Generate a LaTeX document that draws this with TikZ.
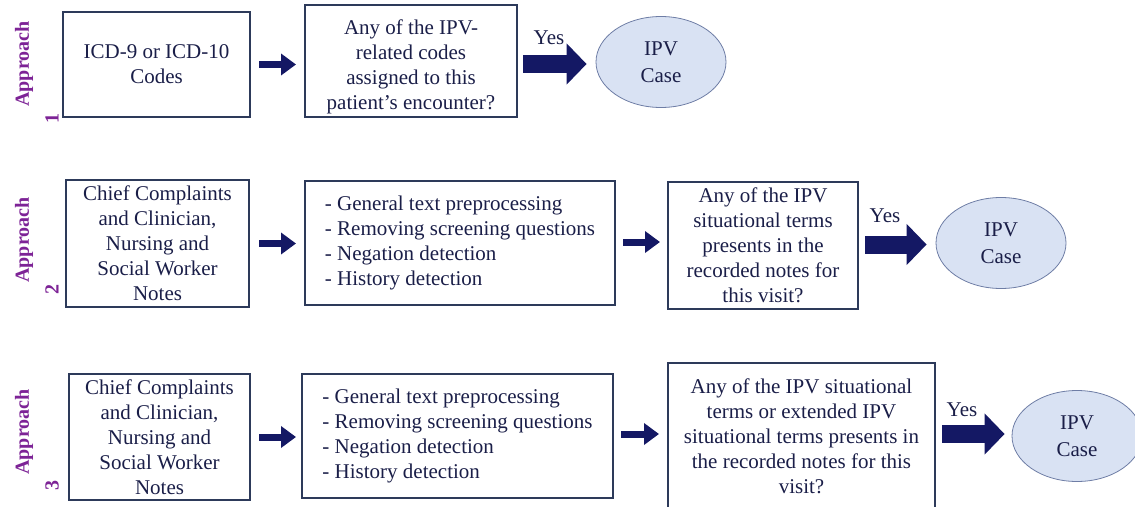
\documentclass[tikz,border=0pt]{standalone}
\usepackage{fontspec}
\setmainfont{Liberation Serif}
\usetikzlibrary{arrows.meta,shapes.geometric,calc}
\definecolor{txt}{RGB}{26,30,72}
\definecolor{boxc}{RGB}{45,58,90}
\definecolor{arr}{RGB}{20,24,100}
\definecolor{ellf}{RGB}{217,226,243}
\definecolor{elld}{RGB}{110,125,165}
\definecolor{purp}{RGB}{125,35,150}
\tikzset{
  every node/.style={text=txt, font=\fontsize{21}{25}\selectfont},
  stepbox/.style={draw=boxc, line width=2pt, rectangle, inner sep=0pt, align=center},
  listbox/.style={draw=boxc, line width=2pt, rectangle, inner sep=0pt, align=left},
  plaintext/.style={inner sep=0pt, align=center},
  casenode/.style={ellipse, draw=elld, line width=0.8pt, fill=ellf, inner sep=0pt,
    minimum width=130pt, minimum height=91pt, align=center, font=\fontsize{21}{27}\selectfont},
  apprlabel/.style={text=purp, rotate=90, font=\bfseries\fontsize{20}{24}\selectfont},
  smallarr/.style={draw=arr, line width=7pt, -{Triangle[length=15pt,width=21pt]}},
  bigarr/.style={draw=arr, line width=18pt, -{Triangle[length=20pt,width=40pt]}},
  yeslabel/.style={inner sep=0pt}
}
\begin{document}
\begin{tikzpicture}[x=1pt,y=-1pt]
\useasboundingbox (0,0) rectangle (1135,506);
\clip (0,0) rectangle (1135,506);

% Row 1
\node[apprlabel] (ap1) at (24,64) {Approach};
\node[apprlabel] (n1) at (52,118) {1};
\node[stepbox, minimum width=187pt, minimum height=105pt] (b11) at (156.5,64.5) {ICD-9 or ICD-10\\Codes};
\node[stepbox, minimum width=212pt, minimum height=112pt] (b12) at (411,61) {};
\node[plaintext] (t12) at (411,67) {Any of the IPV-\\related codes\\assigned to this\\patient’s encounter?};
\node[casenode] (e1) at (661,62) {IPV\\Case};
\node[yeslabel] (y1) at (549,38) {Yes};
\draw[smallarr] ($(b11.east)+(8,0)$) -- ($(b11.east -| b12.west)+(-8,0)$);
\draw[bigarr] ($(b12.east)+(5,3)$) -- ($(b12.east -| e1.west)+(-9,3)$);

% Row 2
\node[apprlabel] (ap2) at (24,240) {Approach};
\node[apprlabel] (n2) at (52,289) {2};
\node[stepbox, minimum width=183pt, minimum height=127pt] (b21) at (157.5,243.5) {Chief Complaints\\and Clinician,\\Nursing and\\Social Worker\\Notes};
\node[listbox, minimum width=310pt, minimum height=124pt] (b22) at (460,243) {- General text preprocessing\\- Removing screening questions\\- Negation detection\\- History detection};
\node[stepbox, minimum width=190pt, minimum height=127pt] (b23) at (763,245.5) {Any of the IPV\\situational terms\\presents in the\\recorded notes for\\this visit?};
\node[casenode] (e2) at (1001,243) {IPV\\Case};
\node[yeslabel] (y2) at (885,216) {Yes};
\draw[smallarr] ($(b21.east)+(9,0)$) -- ($(b21.east -| b22.west)+(-8,0)$);
\draw[smallarr] ($(b22.east)+(7,-1)$) -- ($(b22.east -| b23.west)+(-7,-1)$);
\draw[bigarr] ($(b23.east)+(6,-1)$) -- ($(b23.east -| e2.west)+(-9,-1)$);

% Row 3
\node[apprlabel] (ap3) at (24,432) {Approach};
\node[apprlabel] (n3) at (52,485) {3};
\node[stepbox, minimum width=181pt, minimum height=126pt] (b31) at (159.5,437) {Chief Complaints\\and Clinician,\\Nursing and\\Social Worker\\Notes};
\node[listbox, minimum width=311pt, minimum height=124pt] (b32) at (457.5,436) {- General text preprocessing\\- Removing screening questions\\- Negation detection\\- History detection};
\node[stepbox, minimum width=267pt, minimum height=146pt] (b33) at (801.5,436) {Any of the IPV situational\\terms or extended IPV\\situational terms presents in\\the recorded notes for this\\visit?};
\node[casenode] (e3) at (1077,436) {IPV\\Case};
\node[yeslabel] (y3) at (962,410) {Yes};
\draw[smallarr] ($(b31.east)+(8,0)$) -- ($(b31.east -| b32.west)+(-5,0)$);
\draw[smallarr] ($(b32.east)+(7,-2)$) -- ($(b32.east -| b33.west)+(-8,-2)$);
\draw[bigarr] ($(b33.east)+(6,-2)$) -- ($(b33.east -| e3.west)+(-7,-2)$);
\end{tikzpicture}
\end{document}
